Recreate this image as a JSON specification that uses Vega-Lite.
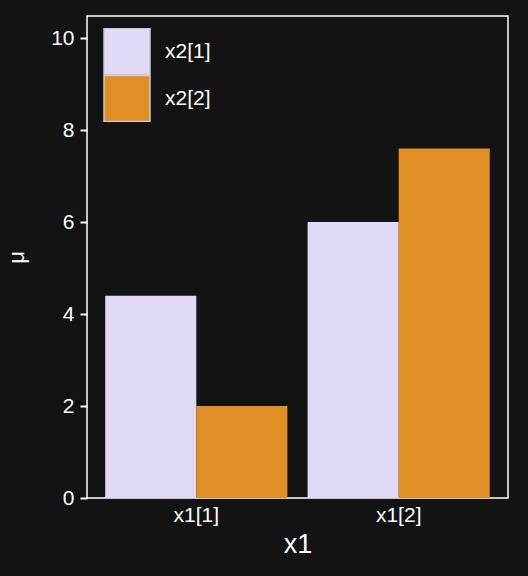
{
  "$schema": "https://vega.github.io/schema/vega-lite/v6.json",
  "autosize": {"type": "none"},
  "width": 421,
  "height": 482,
  "padding": {"left": 87, "top": 16, "right": 20, "bottom": 78},
  "background": "#131313",
  "data": {
    "values": [
      {"x1": "x1[1]", "x2": "x2[1]", "mu": 4.4},
      {"x1": "x1[1]", "x2": "x2[2]", "mu": 2.0},
      {"x1": "x1[2]", "x2": "x2[1]", "mu": 6.0},
      {"x1": "x1[2]", "x2": "x2[2]", "mu": 7.6}
    ]
  },
  "mark": {"type": "bar", "strokeWidth": 0},
  "encoding": {
    "x": {
      "field": "x1", "type": "nominal",
      "scale": {"paddingInner": 0.1, "paddingOuter": 0.09},
      "axis": {"title": "x1", "labelAngle": 0, "ticks": false, "domain": false, "labelPadding": 6, "labelFontSize": 21, "titleFontSize": 27, "titlePadding": 6, "labelColor": "white", "titleColor": "white", "titleFontWeight": "normal", "labelFont": "Liberation Sans", "titleFont": "Liberation Sans"}
    },
    "xOffset": {"field": "x2", "type": "nominal", "scale": {"paddingInner": 0, "paddingOuter": 0}},
    "y": {
      "field": "mu", "type": "quantitative",
      "scale": {"domain": [0, 10.48], "nice": false},
      "axis": {"title": "μ", "values": [0, 2, 4, 6, 8, 10], "grid": false, "domain": false, "tickColor": "white", "tickSize": 7, "tickWidth": 2, "labelPadding": 6, "labelFontSize": 21, "titleFontSize": 22, "titlePadding": 22, "labelColor": "white", "titleColor": "white", "titleFontWeight": "normal", "labelFont": "Liberation Sans", "titleFont": "Liberation Sans"}
    },
    "color": {
      "field": "x2", "type": "nominal",
      "scale": {"range": ["#e2d9f7", "#e08e26"]},
      "legend": {
        "title": null, "orient": "none", "legendX": 16, "legendY": 12,
        "symbolType": "square", "symbolSize": 2116, "symbolStrokeColor": "#cccccc", "symbolStrokeWidth": 1.5, "symbolOpacity": 1,
        "rowPadding": 0, "clipHeight": 47, "labelOffset": 14, "labelFontSize": 21, "labelColor": "white", "labelFont": "Liberation Sans"
      }
    }
  },
  "config": {
    "view": {"stroke": "white", "strokeWidth": 1.5}
  }
}
